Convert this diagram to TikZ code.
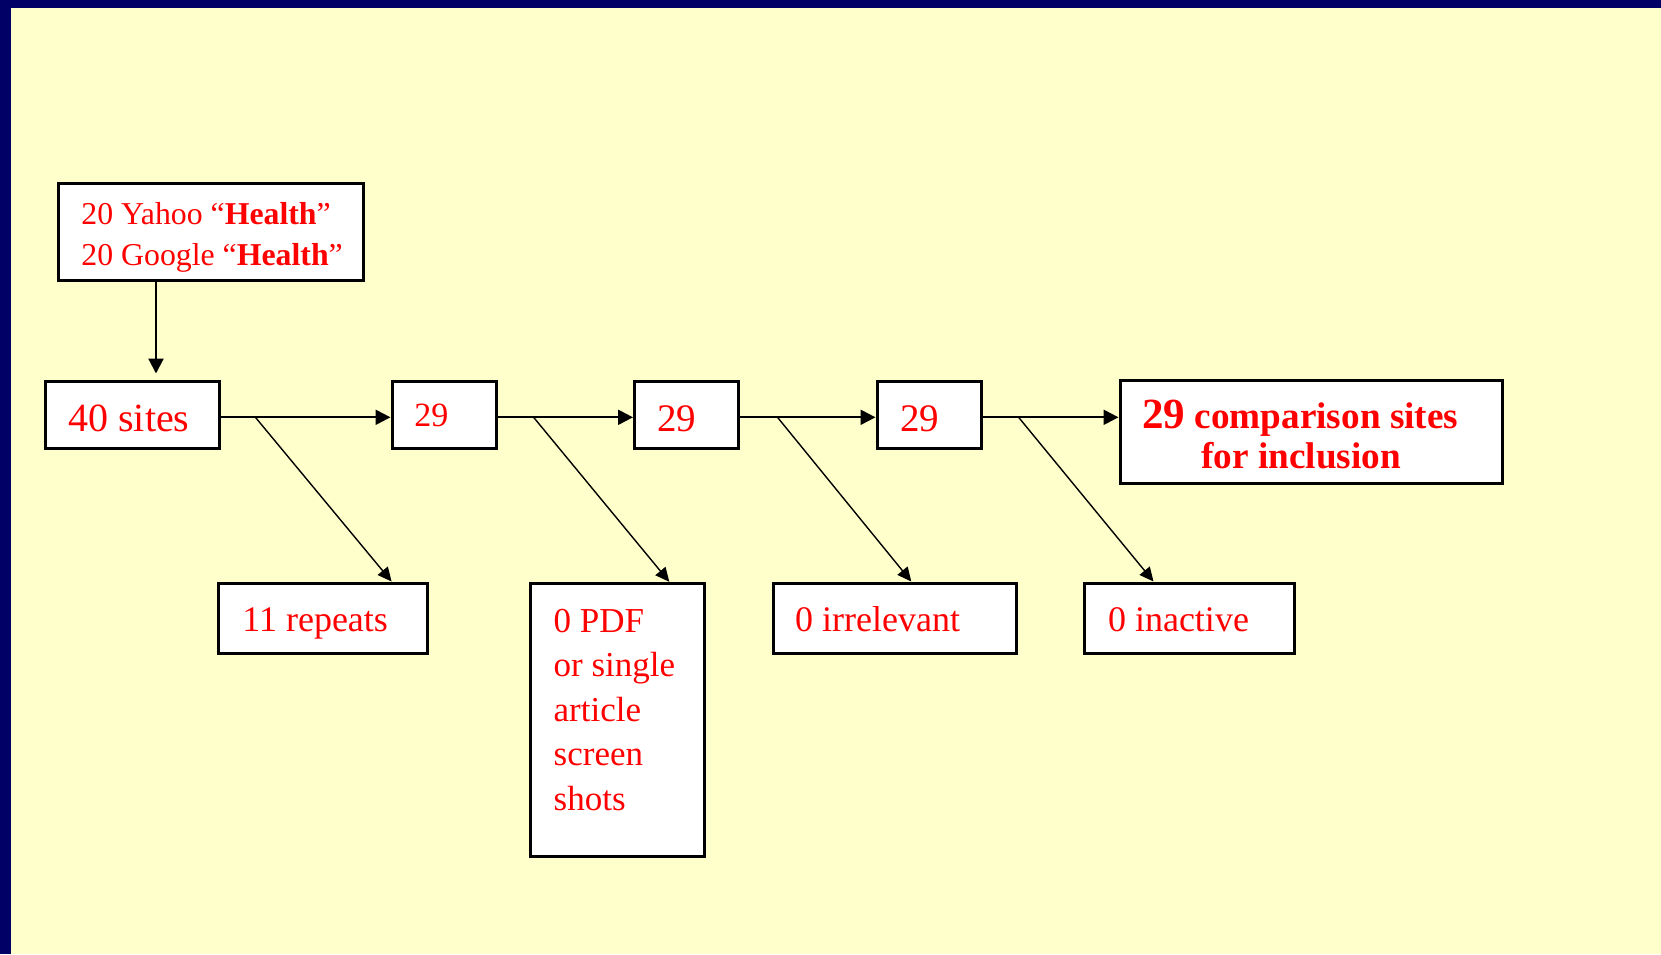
\documentclass[tikz,border=0pt]{standalone}
\usepackage{fontspec}
\setmainfont{Liberation Serif}
\usetikzlibrary{arrows.meta,calc}
\definecolor{bgyellow}{HTML}{FFFFCC}
\definecolor{navyband}{HTML}{000066}
\definecolor{txtred}{HTML}{FF0000}
\begin{document}
\begin{tikzpicture}[x=0.5pt,y=-0.5pt,
  box/.style={draw=black,line width=1.5pt,fill=white,inner sep=0pt},
  txt/.style={text=txtred,inner sep=0pt,anchor=base west},
  flow/.style={line width=1.1pt,-{Triangle[length=7.5pt,width=7.5pt]}},
  side/.style={line width=0.7pt,-{Triangle[length=7pt,width=6.5pt]}}]
\useasboundingbox (0,0) rectangle (1661,954);
\fill[navyband] (0,0) rectangle (1661,954);
\fill[bgyellow] (11,8) rectangle (1661,954);
% boxes
\node[box,minimum width=152.5pt,minimum height=48.5pt] (src) at (210.5,231.5) {};
\node[box,minimum width=86.75pt,minimum height=33.5pt] (s40) at (132.25,414.5) {};
\node[box,minimum width=52pt,minimum height=33.5pt] (c1) at (444,414.5) {};
\node[box,minimum width=51.75pt,minimum height=33.5pt] (c2) at (686.25,414.5) {};
\node[box,minimum width=52pt,minimum height=33.5pt] (c3) at (929,414.5) {};
\node[box,minimum width=191pt,minimum height=51.15pt] (fin) at (1311,431.85) {};
\node[box,minimum width=104.25pt,minimum height=35pt] (rep) at (323,618) {};
\node[box,minimum width=87pt,minimum height=136.35pt] (pdf) at (617.7,719.65) {};
\node[box,minimum width=121.5pt,minimum height=35pt] (irr) at (894.5,618) {};
\node[box,minimum width=104.7pt,minimum height=35pt] (ina) at (1189.3,618) {};
% texts (multi-line nodes: base anchor = last line's baseline)
\node[txt,align=left,font=\fontsize{15.9}{20.35}\selectfont] (tsrc) at (81,265)
  {20 Yahoo “\textbf{Health}”\\20 Google “\textbf{Health}”};
\node[txt,font=\fontsize{20}{24}\selectfont] (t40) at (68,431.7) {40 sites};
\node[txt,font=\fontsize{17}{20}\selectfont] (t1) at (414,426.7) {29};
\node[txt,font=\fontsize{19.5}{23}\selectfont] (t2) at (657,431.7) {29};
\node[txt,font=\fontsize{19.5}{23}\selectfont] (t3) at (899.8,431.7) {29};
\node[txt,font=\bfseries\fontsize{18.6}{22}\selectfont] (tf1) at (1142,428.3)
  {{\fontsize{21.5}{22}\selectfont 29} comparison sites};
\node[txt,font=\bfseries\fontsize{18.6}{22}\selectfont] (tf2) at (1201,468.3) {for inclusion};
\node[txt,font=\fontsize{18}{22}\selectfont] (trep) at (242,631.7) {11 repeats};
\node[txt,align=left,font=\fontsize{17.5}{22.2}\selectfont] (tpdf) at (553.3,810)
  {0 PDF\\or single\\article\\screen\\shots};
\node[txt,font=\fontsize{18}{22}\selectfont] (tirr) at (794.7,631.7) {0 irrelevant};
\node[txt,font=\fontsize{18}{22}\selectfont] (tina) at (1107.6,631.7) {0 inactive};
% connectors
\coordinate (hy) at (0,417.3);
\coordinate (vx) at (156,0);
\draw[flow,shorten >=3pt] (src.south -| vx) -- (s40.north -| vx);
\draw[flow] (s40.east |- hy) -- (c1.west |- hy);
\draw[flow] (c1.east |- hy) -- (c2.west |- hy);
\draw[flow] (c2.east |- hy) -- (c3.west |- hy);
\draw[flow] (c3.east |- hy) -- (fin.west |- hy);
\coordinate (d1) at (255.4,417.3); \coordinate (e1) at (391.6,0);
\coordinate (d2) at (533.6,417.3); \coordinate (e2) at (669.3,0);
\coordinate (d3) at (777.5,417.3); \coordinate (e3) at (911.3,0);
\coordinate (d4) at (1018.6,417.3); \coordinate (e4) at (1153.5,0);
\draw[side] (d1) -- (e1 |- rep.north);
\draw[side] (d2) -- (e2 |- pdf.north);
\draw[side] (d3) -- (e3 |- irr.north);
\draw[side] (d4) -- (e4 |- ina.north);
\end{tikzpicture}
\end{document}
